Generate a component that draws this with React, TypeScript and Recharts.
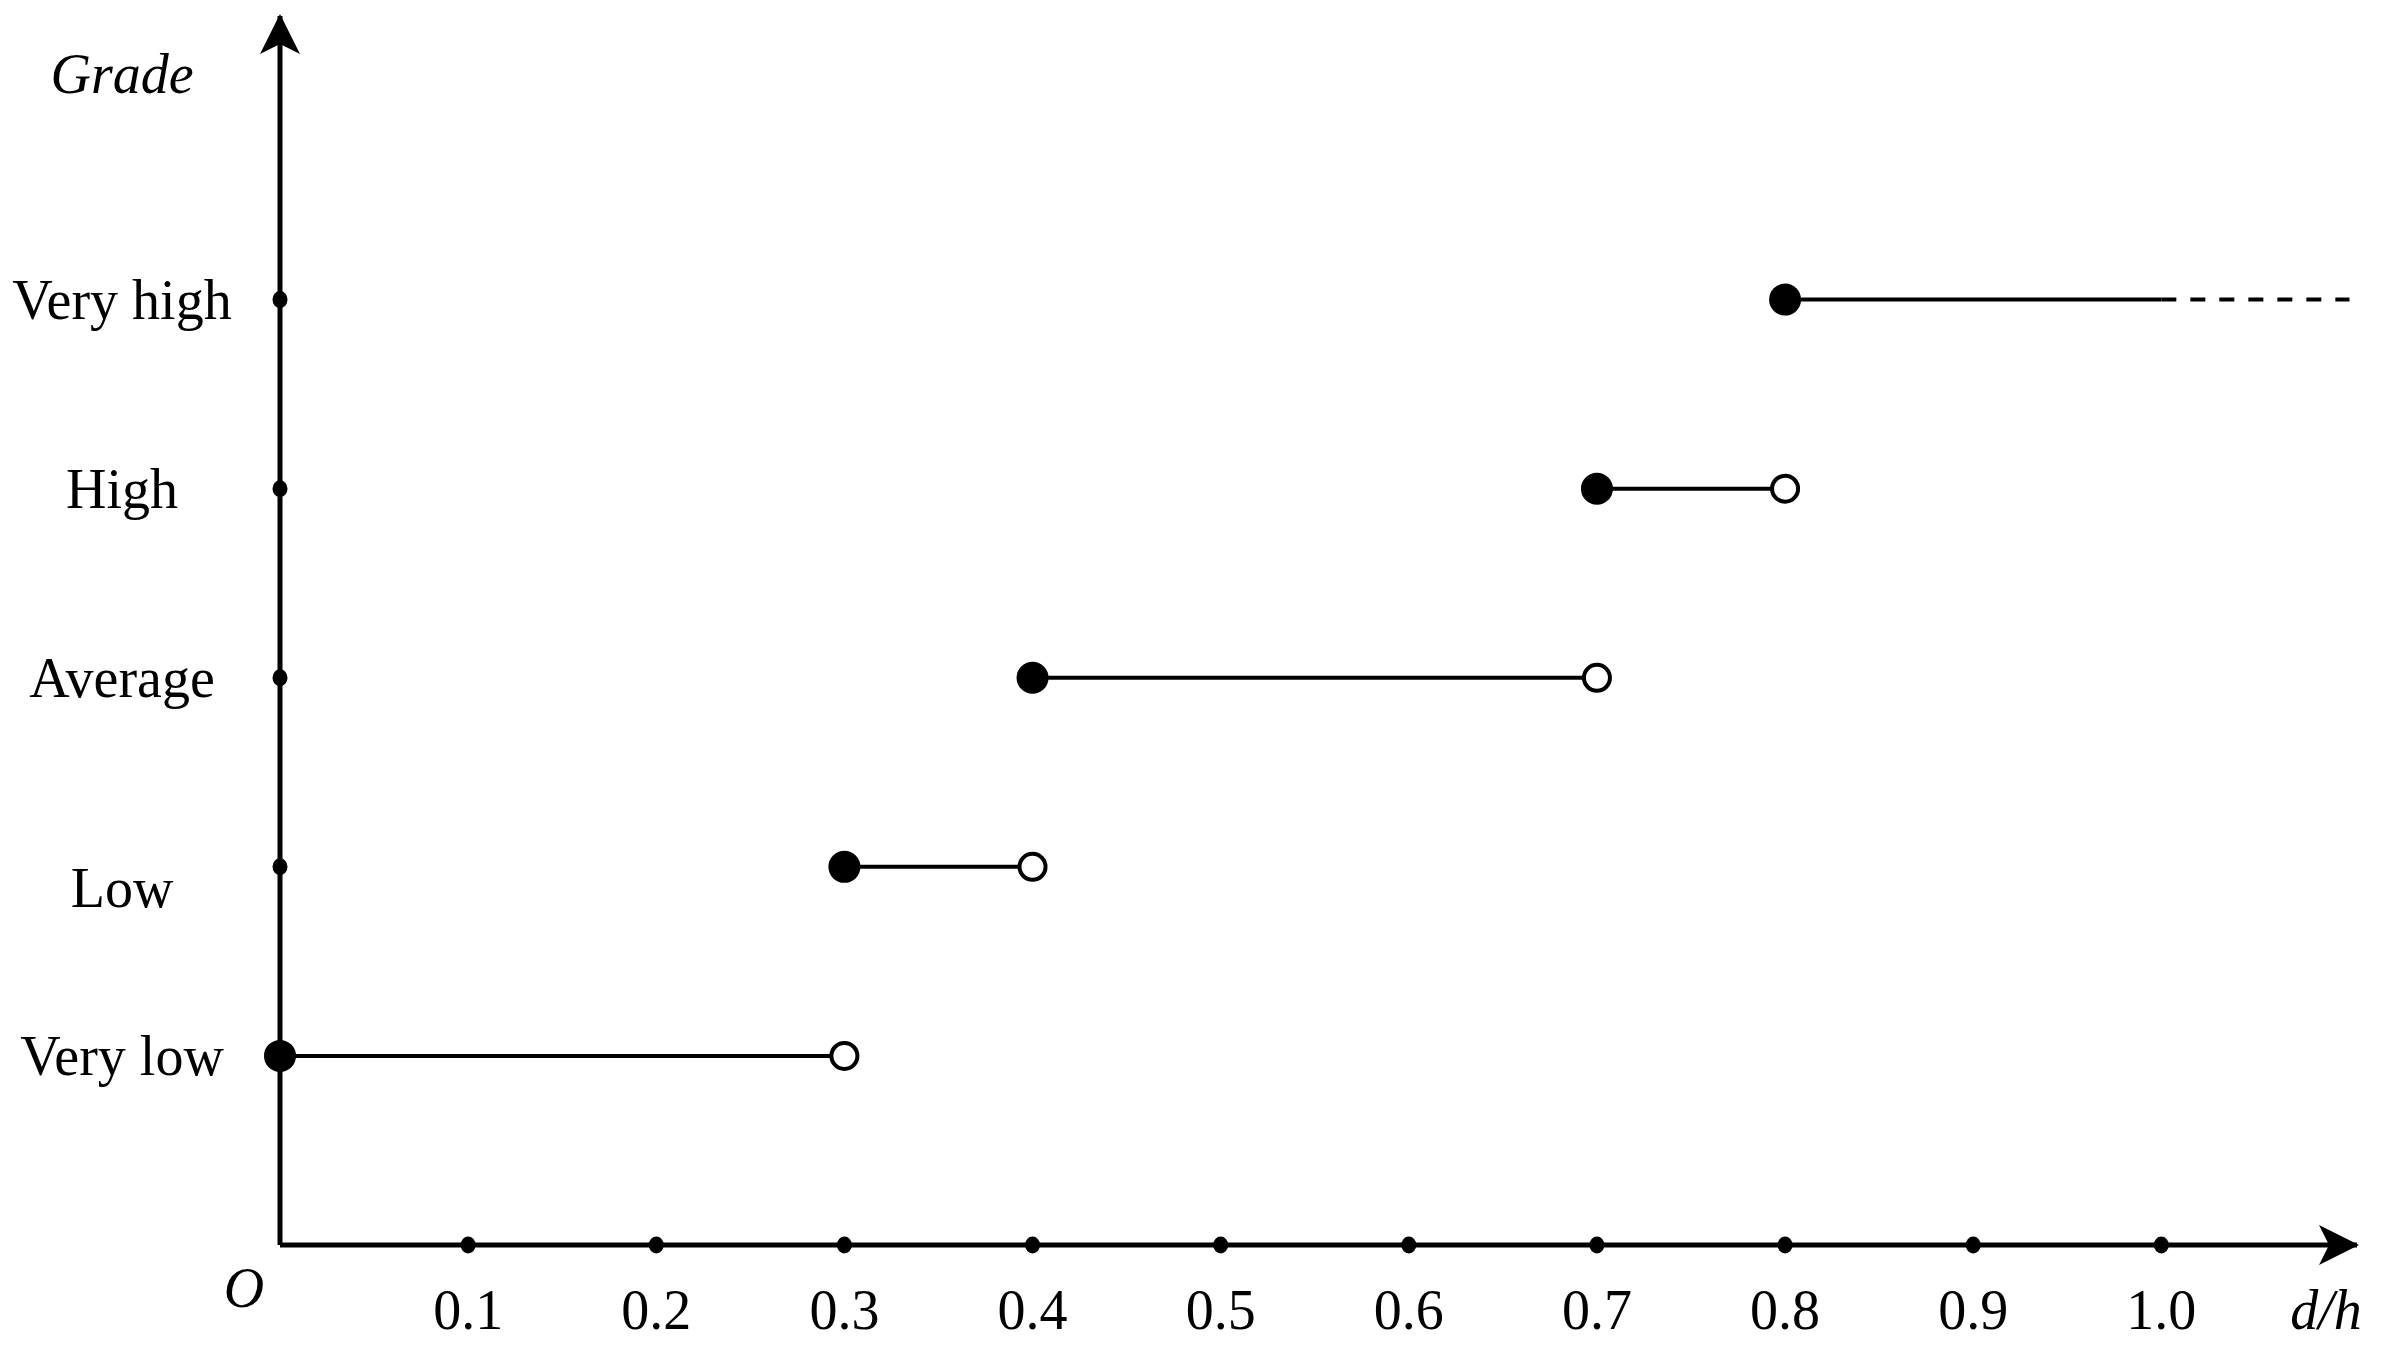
import React from 'react';
import { ComposedChart, Scatter, XAxis, YAxis } from 'recharts';

const grades = ['Very low', 'Low', 'Average', 'High', 'Very high'];
const lowerBounds = [0, 0.3, 0.4, 0.7, 0.8];
const upperBounds = [0.3, 0.4, 0.7, 0.8, 1.0];
const upperMarks = ['open', 'open', 'open', 'open', 'none'];
const openTailEnd = 1.1;
const xTicks = [0.1, 0.2, 0.3, 0.4, 0.5, 0.6, 0.7, 0.8, 0.9, 1.0];
const yTicks = [1, 2, 3, 4, 5];
const xMax = 1.104;
const yMax = 6.5;

const FONT = '"Liberation Serif", "Times New Roman", serif';
const FS = 56;

const segments = grades.map((g, i) => [
  { x: lowerBounds[i], y: i + 1, mark: 'filled' },
  { x: upperBounds[i], y: i + 1, mark: upperMarks[i] },
]);
const tail = [
  { x: upperBounds[4], y: 5, mark: 'none' },
  { x: openTailEnd, y: 5, mark: 'none' },
];
const xAxisDots = xTicks.map((v) => ({ x: v, y: 0 }));
const yAxisDots = yTicks.map((v) => ({ x: 0, y: v }));
const arrowHeads = [
  { x: xMax, y: 0, dir: 'right' },
  { x: 0, y: yMax, dir: 'up' },
];

// small nudge seen in the original for one label
const labelNudge: Record<string, number> = { Low: 21 };

const endMark = (props: any) => {
  const { cx, cy, payload } = props;
  if (payload.mark === 'filled') return <circle cx={cx} cy={cy} r={16} fill="#000" />;
  if (payload.mark === 'open')
    return <circle cx={cx} cy={cy} r={13} fill="#fff" stroke="#000" strokeWidth={4} />;
  return <g />;
};

const axisDot = (props: any) => <ellipse cx={props.cx} cy={props.cy} rx={7.5} ry={8.5} fill="#000" />;

const arrow = (props: any) => {
  const { cx, cy, payload } = props;
  if (payload.dir === 'right') {
    const t = cx + 2;
    return <path d={`M${t},${cy} L${t - 40},${cy - 20} L${t - 30},${cy} L${t - 40},${cy + 20} Z`} fill="#000" />;
  }
  const t = cy - 2;
  return <path d={`M${cx},${t} L${cx - 20},${t + 40} L${cx},${t + 30} L${cx + 20},${t + 40} Z`} fill="#000" />;
};

const XTick = (props: any) => {
  const { x, y, payload } = props;
  return (
    <text x={x} y={y + 65} dy="0.34em" textAnchor="middle" fontSize={FS} fontFamily={FONT} fill="#000">
      {Number(payload.value).toFixed(1)}
    </text>
  );
};

const YTick = (props: any) => {
  const { y, payload } = props;
  const name = grades[payload.value - 1];
  return (
    <text x={122} y={y + (labelNudge[name] || 0)} dy="0.34em" textAnchor="middle" fontSize={FS} fontFamily={FONT} fill="#000">
      {name}
    </text>
  );
};

const xLabels = (props: any) => {
  const vb = props.viewBox || {};
  return (
    <g fontFamily={FONT} fontSize={FS} fontStyle="italic" fill="#000">
      <text x={vb.x - 36} y={vb.y + 62} textAnchor="middle">O</text>
      <text x={vb.x + vb.width - 31} y={vb.y + 84} textAnchor="middle">d/h</text>
    </g>
  );
};

const yLabel = () => (
  <text x={122} y={93} textAnchor="middle" fontFamily={FONT} fontSize={FS} fontStyle="italic" fill="#000">
    Grade
  </text>
);

export default function App() {
  return (
    <div style={{ position: 'absolute', left: 0, top: 0, width: 2395, height: 1364, background: '#fff' }}>
      <ComposedChart width={2395} height={1364} margin={{ top: 16, right: 38, bottom: 20, left: 0 }}>
        <XAxis
          type="number"
          dataKey="x"
          domain={[0, xMax]}
          ticks={xTicks}
          height={99}
          tickLine={false}
          tickSize={0}
          tickMargin={0}
          axisLine={{ stroke: '#000', strokeWidth: 5 }}
          tick={<XTick />}
          label={xLabels}
        />
        <YAxis
          type="number"
          dataKey="y"
          domain={[0, yMax]}
          ticks={yTicks}
          width={280}
          tickLine={false}
          tickSize={0}
          tickMargin={0}
          axisLine={{ stroke: '#000', strokeWidth: 5 }}
          tick={<YTick />}
          label={yLabel}
        />
        <Scatter data={xAxisDots} shape={axisDot} isAnimationActive={false} />
        <Scatter data={yAxisDots} shape={axisDot} isAnimationActive={false} />
        <Scatter data={arrowHeads} shape={arrow} isAnimationActive={false} />
        <Scatter
          data={tail}
          shape={endMark}
          line={{ stroke: '#000', strokeWidth: 4, strokeDasharray: '15 14' }}
          isAnimationActive={false}
        />
        {segments.map((seg, i) => (
          <Scatter
            key={grades[i]}
            data={seg}
            shape={endMark}
            line={{ stroke: '#000', strokeWidth: 4 }}
            isAnimationActive={false}
          />
        ))}
      </ComposedChart>
    </div>
  );
}
